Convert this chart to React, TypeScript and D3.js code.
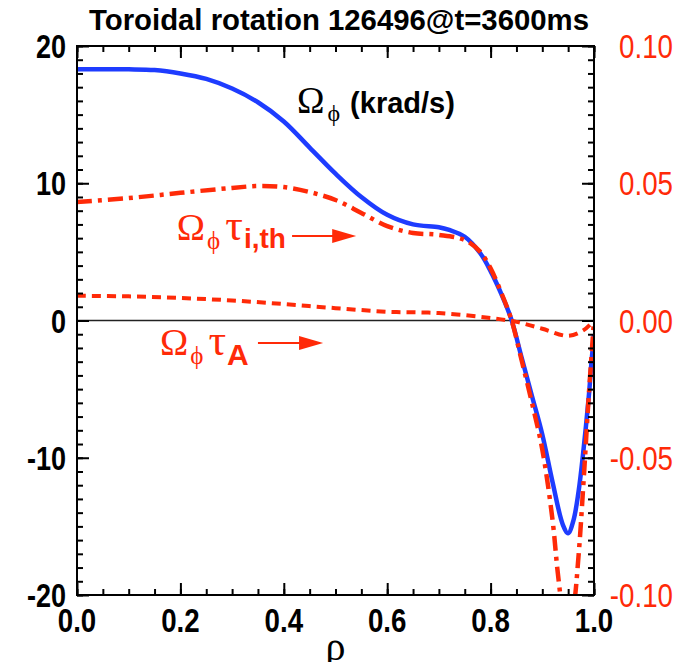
import React, { useRef, useEffect } from "react";
import * as d3 from "d3";

// rho grid and profiles
const rhoOmega = [0, 0.05, 0.1, 0.15, 0.2, 0.25, 0.3, 0.35, 0.4, 0.45, 0.5, 0.55, 0.6, 0.65, 0.7, 0.72, 0.75, 0.78, 0.8, 0.82, 0.84, 0.86, 0.88, 0.9, 0.92, 0.94, 0.95, 0.96, 0.97, 0.98, 0.99, 0.995, 1.0];
const omega = [18.3, 18.3, 18.3, 18.25, 18.0, 17.6, 16.9, 15.9, 14.5, 12.6, 10.7, 9.0, 7.7, 7.0, 6.8, 6.6, 6.1, 4.9, 3.6, 2.0, 0.1, -2.7, -5.5, -8.3, -11.8, -14.9, -15.5, -14.6, -12.5, -9.3, -5.5, -3.1, -1.0];

const rhoTauI = [0, 0.1, 0.2, 0.3, 0.35, 0.4, 0.45, 0.5, 0.55, 0.6, 0.65, 0.7, 0.75, 0.78, 0.8, 0.82, 0.84, 0.86, 0.88, 0.9, 0.92, 0.93, 0.94, 0.95, 0.96, 0.97, 0.98, 0.99, 1.0];
const omegaTauI = [0.0432, 0.0446, 0.0465, 0.0483, 0.049, 0.0486, 0.0468, 0.0439, 0.0392, 0.0344, 0.0319, 0.0312, 0.0293, 0.025, 0.019, 0.0104, 0.0004, -0.0145, -0.03, -0.047, -0.073, -0.092, -0.106, -0.112, -0.105, -0.086, -0.058, -0.027, 0];

const rhoTauA = [0, 0.1, 0.2, 0.3, 0.4, 0.5, 0.6, 0.7, 0.8, 0.85, 0.9, 0.95, 0.98, 1.0];
const omegaTauA = [0.009, 0.0088, 0.0082, 0.0073, 0.006, 0.0045, 0.0032, 0.0027, 0.0009, -0.0005, -0.003, -0.0056, -0.0035, 0];

const xTicks = [0, 0.2, 0.4, 0.6, 0.8, 1.0];
const xMinor = d3.range(0, 21).map((i) => i / 20);
const yLeftTicks = [-20, -10, 0, 10, 20];
const yMinor = d3.range(-20, 21);
const yRightTicks = [-0.1, -0.05, 0, 0.05, 0.1];

const BLUE = "#1e3cff";
const RED = "#ff2a08";

export default function App() {
  const svgRef = useRef(null);
  const width = 691;
  const height = 670;

  useEffect(() => {
    const svg = d3.select(svgRef.current);
    svg.selectAll("*").remove();

    const left = 77, right = 594, top = 46, bottom = 595;
    const x = d3.scaleLinear().domain([0, 1]).range([left, right]);
    const yL = d3.scaleLinear().domain([-20, 20]).range([bottom, top]);
    const yR = d3.scaleLinear().domain([-0.1, 0.1]).range([bottom, top]);

    svg.append("defs").append("clipPath").attr("id", "plot")
      .append("rect").attr("x", left).attr("y", top)
      .attr("width", right - left).attr("height", bottom - top);

    // zero line
    svg.append("line")
      .attr("x1", left).attr("x2", right)
      .attr("y1", yL(0)).attr("y2", yL(0))
      .attr("stroke", "#222").attr("stroke-width", 1.5);

    const g = svg.append("g").attr("clip-path", "url(#plot)");

    const lineL = d3.line<number>()
      .x((d, i) => x(rhoOmega[i]))
      .y((d) => yL(d))
      .curve(d3.curveCatmullRom.alpha(0.5));
    g.append("path").datum(omega)
      .attr("fill", "none").attr("stroke", BLUE).attr("stroke-width", 4.5)
      .attr("d", lineL);

    const lineA = d3.line<number>()
      .x((d, i) => x(rhoTauA[i]))
      .y((d) => yR(d))
      .curve(d3.curveCatmullRom.alpha(0.5));
    g.append("path").datum(omegaTauA)
      .attr("fill", "none").attr("stroke", RED).attr("stroke-width", 4)
      .attr("stroke-dasharray", "9,6")
      .attr("d", lineA);

    const lineI = d3.line<number>()
      .x((d, i) => x(rhoTauI[i]))
      .y((d) => yR(d))
      .curve(d3.curveCatmullRom.alpha(0.5));
    g.append("path").datum(omegaTauI)
      .attr("fill", "none").attr("stroke", RED).attr("stroke-width", 4.5)
      .attr("stroke-dasharray", "15,6,4,6")
      .attr("d", lineI);

    // inward ticks via d3 axes (no labels, no domain)
    const axisTicks = (axis: any, vals: number[], len: number, tr: string) => {
      const a = svg.append("g")
        .attr("transform", tr)
        .call(axis.tickValues(vals).tickSize(-len).tickFormat(() => ""));
      a.select(".domain").remove();
      a.selectAll("line").attr("stroke", "#000").attr("stroke-width", 2);
    };
    axisTicks(d3.axisBottom(x), xMinor, 6, `translate(0,${bottom})`);
    axisTicks(d3.axisBottom(x), xTicks, 12, `translate(0,${bottom})`);
    axisTicks(d3.axisTop(x), xMinor, 6, `translate(0,${top})`);
    axisTicks(d3.axisTop(x), xTicks, 12, `translate(0,${top})`);
    axisTicks(d3.axisLeft(yL), yMinor, 6, `translate(${left},0)`);
    axisTicks(d3.axisLeft(yL), yLeftTicks, 12, `translate(${left},0)`);
    axisTicks(d3.axisRight(yR), yMinor.map((v) => v / 200), 6, `translate(${right},0)`);
    axisTicks(d3.axisRight(yR), yRightTicks, 12, `translate(${right},0)`);

    // frame
    svg.append("rect")
      .attr("x", left).attr("y", top)
      .attr("width", right - left).attr("height", bottom - top)
      .attr("fill", "none").attr("stroke", "#000").attr("stroke-width", 2);

    const sans = "'Liberation Sans', Arial, sans-serif";
    const serif = "'Liberation Serif', 'DejaVu Serif', serif";

    // tick labels
    xTicks.forEach((v) => {
      svg.append("text")
        .attr("transform", `translate(${x(v)},${632}) scale(0.84,1)`)
        .attr("text-anchor", "middle")
        .style("font-family", sans).style("font-weight", "bold").style("font-size", "33px")
        .text(v.toFixed(1));
    });
    yLeftTicks.forEach((v) => {
      svg.append("text")
        .attr("transform", `translate(66,${yL(v) + 12}) scale(0.82,1)`)
        .attr("text-anchor", "end")
        .style("font-family", sans).style("font-weight", "bold").style("font-size", "33px")
        .text(String(v));
    });
    yRightTicks.forEach((v) => {
      svg.append("text")
        .attr("transform", `translate(673,${yR(v) + 12}) scale(0.84,1)`)
        .attr("text-anchor", "end")
        .attr("fill", RED)
        .style("font-family", sans).style("font-size", "33px")
        .text(v.toFixed(2));
    });

    // title
    svg.append("text")
      .attr("x", 339).attr("y", 30)
      .attr("text-anchor", "middle")
      .attr("textLength", 500).attr("lengthAdjust", "spacingAndGlyphs")
      .style("font-family", sans).style("font-weight", "bold").style("font-size", "29px")
      .text("Toroidal rotation 126496@t=3600ms");

    // x label
    svg.append("text")
      .attr("x", (left + right) / 2).attr("y", 660)
      .attr("text-anchor", "middle")
      .style("font-family", serif).style("font-size", "40px")
      .text("ρ");

    // curve labels (positions in data units)
    const t1 = svg.append("text")
      .attr("x", x(0.4255)).attr("y", yL(15.12))
      .style("font-family", serif).style("font-size", "37px");
    t1.append("tspan").text("Ω");
    t1.append("tspan").attr("dy", 8).attr("dx", 3).style("font-size", "24px").text("ϕ");
    t1.append("tspan").attr("dy", -8).attr("dx", 10)
      .style("font-family", sans).style("font-weight", "bold").style("font-size", "29px")
      .text("(krad/s)");

    const t2 = svg.append("text")
      .attr("x", x(0.193)).attr("y", yL(5.87))
      .attr("fill", RED)
      .style("font-family", serif).style("font-size", "38px");
    t2.append("tspan").text("Ω");
    t2.append("tspan").attr("dy", 9).attr("dx", 2).style("font-size", "25px").text("ϕ");
    t2.append("tspan").attr("dy", -9).attr("dx", 5).style("font-size", "44px").text("τ");
    t2.append("tspan").attr("dy", 8).attr("dx", 1)
      .style("font-family", sans).style("font-weight", "bold").style("font-size", "28px")
      .text("i,th");

    const t3 = svg.append("text")
      .attr("x", x(0.1605)).attr("y", yL(-2.51))
      .attr("fill", RED)
      .style("font-family", serif).style("font-size", "38px");
    t3.append("tspan").text("Ω");
    t3.append("tspan").attr("dy", 9).attr("dx", 2).style("font-size", "25px").text("ϕ");
    t3.append("tspan").attr("dy", -9).attr("dx", 5).style("font-size", "44px").text("τ");
    t3.append("tspan").attr("dy", 10).attr("dx", 1)
      .style("font-family", sans).style("font-weight", "bold").style("font-size", "30px")
      .text("A");

    // arrows
    const arrow = (x0: number, x1: number, yv: number) => {
      const px0 = x(x0), px1 = x(x1), py = yL(yv);
      svg.append("line")
        .attr("x1", px0).attr("x2", px1 - 18)
        .attr("y1", py).attr("y2", py)
        .attr("stroke", RED).attr("stroke-width", 2);
      svg.append("path")
        .attr("d", `M${px1},${py} L${px1 - 24},${py - 7} L${px1 - 24},${py + 7} Z`)
        .attr("fill", RED);
    };
    arrow(0.416, 0.54, 6.16);
    arrow(0.35, 0.476, -1.64);
  }, []);

  return <svg ref={svgRef} width={width} height={height} style={{ display: "block", margin: "-8px" }}></svg>;
}
